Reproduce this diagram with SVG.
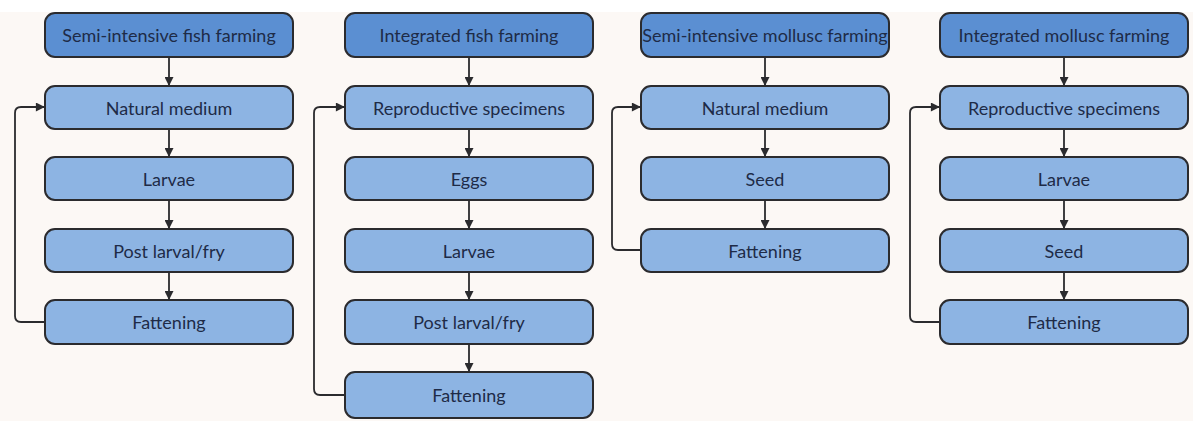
<svg xmlns="http://www.w3.org/2000/svg" width="1193" height="421" viewBox="0 0 1193 421">
<defs>
<style>
.h rect{fill:#5b8fd2;stroke:#2b2b2e;stroke-width:2}
.n rect{fill:#8db4e3;stroke:#2b2b2e;stroke-width:2}
text{font-family:Lato,"Open Sans",sans-serif;font-size:18px;fill:#1e2b47;text-anchor:middle;dominant-baseline:central}
.c path{fill:none;stroke:#2b2b2e;stroke-width:1.8}
</style>
<marker id="ar" viewBox="0 0 10 10" refX="9" refY="5" markerWidth="11" markerHeight="9" orient="auto" markerUnits="userSpaceOnUse">
<path d="M0,0 L10,5 L0,10 z" fill="#2b2b2e"/>
</marker>
</defs>
<rect width="1193" height="421" fill="#fcf8f5"/>
<rect width="1193" height="12" fill="#ffffff"/>

<g id="c1h" class="h"><rect x="45" y="13" width="248" height="44" rx="10"/><text x="169" y="35">Semi-intensive fish farming</text></g>
<g id="c1n1" class="n"><rect x="45" y="86" width="248" height="43" rx="10"/><text x="169" y="107.5">Natural medium</text></g>
<g id="c1n2" class="n"><rect x="45" y="157" width="248" height="43" rx="10"/><text x="169" y="178.5">Larvae</text></g>
<g id="c1n3" class="n"><rect x="45" y="229" width="248" height="43" rx="10"/><text x="169" y="250.5">Post larval/fry</text></g>
<g id="c1n4" class="n"><rect x="45" y="300" width="248" height="44" rx="10"/><text x="169" y="322">Fattening</text></g>

<g id="c2h" class="h"><rect x="345" y="13" width="248" height="44" rx="10"/><text x="469" y="35">Integrated fish farming</text></g>
<g id="c2n1" class="n"><rect x="345" y="86" width="248" height="43" rx="10"/><text x="469" y="107.5">Reproductive specimens</text></g>
<g id="c2n2" class="n"><rect x="345" y="157" width="248" height="43" rx="10"/><text x="469" y="178.5">Eggs</text></g>
<g id="c2n3" class="n"><rect x="345" y="229" width="248" height="43" rx="10"/><text x="469" y="250.5">Larvae</text></g>
<g id="c2n4" class="n"><rect x="345" y="300" width="248" height="44" rx="10"/><text x="469" y="322">Post larval/fry</text></g>
<g id="c2n5" class="n"><rect x="345" y="372" width="248" height="46" rx="10"/><text x="469" y="395">Fattening</text></g>

<g id="c3h" class="h"><rect x="641" y="13" width="248" height="44" rx="10"/><text x="765" y="35">Semi-intensive mollusc farming</text></g>
<g id="c3n1" class="n"><rect x="641" y="86" width="248" height="43" rx="10"/><text x="765" y="107.5">Natural medium</text></g>
<g id="c3n2" class="n"><rect x="641" y="157" width="248" height="43" rx="10"/><text x="765" y="178.5">Seed</text></g>
<g id="c3n3" class="n"><rect x="641" y="229" width="248" height="43" rx="10"/><text x="765" y="250.5">Fattening</text></g>

<g id="c4h" class="h"><rect x="940" y="13" width="248" height="44" rx="10"/><text x="1064" y="35">Integrated mollusc farming</text></g>
<g id="c4n1" class="n"><rect x="940" y="86" width="248" height="43" rx="10"/><text x="1064" y="107.5">Reproductive specimens</text></g>
<g id="c4n2" class="n"><rect x="940" y="157" width="248" height="43" rx="10"/><text x="1064" y="178.5">Larvae</text></g>
<g id="c4n3" class="n"><rect x="940" y="229" width="248" height="43" rx="10"/><text x="1064" y="250.5">Seed</text></g>
<g id="c4n4" class="n"><rect x="940" y="300" width="248" height="44" rx="10"/><text x="1064" y="322">Fattening</text></g>

<g id="connectors" class="c">
<path d="M169,57 V85" marker-end="url(#ar)"/>
<path d="M169,129 V156" marker-end="url(#ar)"/>
<path d="M169,200 V228" marker-end="url(#ar)"/>
<path d="M169,272 V299" marker-end="url(#ar)"/>
<path d="M45,322 H21 Q15,322 15,316 V113 Q15,107 21,107 H44" marker-end="url(#ar)"/>

<path d="M469,57 V85" marker-end="url(#ar)"/>
<path d="M469,129 V156" marker-end="url(#ar)"/>
<path d="M469,200 V228" marker-end="url(#ar)"/>
<path d="M469,272 V299" marker-end="url(#ar)"/>
<path d="M469,344 V371" marker-end="url(#ar)"/>
<path d="M345,395 H320 Q314,395 314,389 V113 Q314,107 320,107 H344" marker-end="url(#ar)"/>

<path d="M765,57 V85" marker-end="url(#ar)"/>
<path d="M765,129 V156" marker-end="url(#ar)"/>
<path d="M765,200 V228" marker-end="url(#ar)"/>
<path d="M641,250 H618 Q612,250 612,244 V113 Q612,107 618,107 H640" marker-end="url(#ar)"/>

<path d="M1064,57 V85" marker-end="url(#ar)"/>
<path d="M1064,129 V156" marker-end="url(#ar)"/>
<path d="M1064,200 V228" marker-end="url(#ar)"/>
<path d="M1064,272 V299" marker-end="url(#ar)"/>
<path d="M940,322 H916 Q910,322 910,316 V113 Q910,107 916,107 H939" marker-end="url(#ar)"/>
</g>
</svg>
